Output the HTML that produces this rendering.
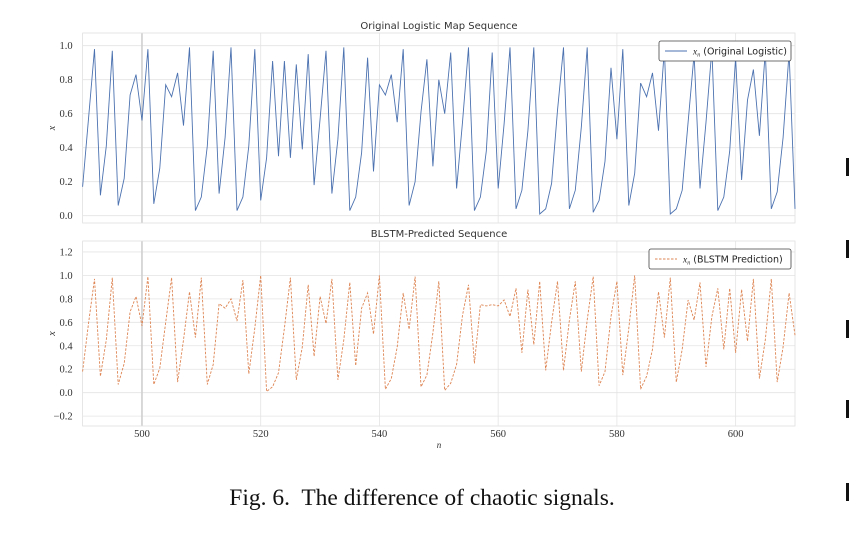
<!DOCTYPE html>
<html><head><meta charset="utf-8"><style>
body{margin:0;background:#fff;width:850px;height:542px;overflow:hidden}
svg{display:block}
</style></head><body>
<svg id="chart" width="850" height="542" viewBox="0 0 850 542" font-family="Liberation Serif, serif">
</svg>
<script>
const nValues=[];for(let n=490;n<=610;n++)nValues.push(n);
const original=[0.17,0.57,0.98,0.12,0.41,0.97,0.06,0.22,0.71,0.83,0.56,0.98,0.07,0.28,0.77,0.70,0.84,0.53,0.99,0.03,0.11,0.41,0.97,0.13,0.46,0.99,0.03,0.11,0.41,0.98,
0.09,0.34,0.91,0.35,0.91,0.34,0.89,0.39,0.95,0.18,0.57,0.97,0.13,0.45,0.99,0.03,0.11,0.37,0.93,0.26,
0.77,0.71,0.83,0.55,0.98,0.06,0.20,0.61,0.92,0.29,0.80,0.60,0.96,0.16,0.55,0.99,0.03,0.11,0.38,0.96,
0.16,0.54,0.99,0.04,0.15,0.50,0.99,0.01,0.04,0.19,0.62,0.99,0.04,0.15,0.52,0.99,0.02,0.09,0.32,0.87,
0.45,0.98,0.06,0.25,0.78,0.70,0.84,0.50,0.98,0.01,0.04,0.15,0.55,0.95,0.16,0.55,0.98,0.03,0.11,0.38,
0.93,0.21,0.68,0.86,0.47,0.97,0.04,0.14,0.46,0.96,0.04];
const predicted=[0.18,0.59,0.97,0.14,0.45,0.98,0.07,0.25,0.69,0.82,0.57,0.99,0.07,0.21,0.60,0.98,0.09,0.45,0.86,0.47,0.98,0.07,0.24,0.76,0.72,0.80,0.61,0.96,0.16,0.55,
1.0,0.01,0.05,0.17,0.55,0.98,0.11,0.39,0.92,0.31,0.82,0.59,0.97,0.11,0.45,0.94,0.23,0.72,0.85,0.50,
1.0,0.03,0.12,0.39,0.85,0.54,0.99,0.05,0.15,0.51,0.95,0.02,0.08,0.24,0.66,0.92,0.25,0.75,0.74,0.75,
0.74,0.79,0.65,0.89,0.34,0.88,0.41,0.95,0.19,0.60,0.95,0.19,0.62,0.95,0.18,0.62,0.99,0.06,0.18,0.65,
0.95,0.15,0.55,1.0,0.03,0.14,0.37,0.86,0.47,0.98,0.09,0.37,0.79,0.62,0.94,0.22,0.65,0.89,0.37,0.89,
0.34,0.88,0.44,0.97,0.12,0.45,0.97,0.09,0.39,0.85,0.49];
const xTicks=[500,520,540,560,580,600];
const yTicksTop=[0.0,0.2,0.4,0.6,0.8,1.0];
const yTicksBot=[-0.2,0.0,0.2,0.4,0.6,0.8,1.0,1.2];

const NS='http://www.w3.org/2000/svg';
const svg=document.getElementById('chart');
function mk(tag,attrs,parent){const e=document.createElementNS(NS,tag);for(const k in attrs)e.setAttribute(k,attrs[k]);(parent||svg).appendChild(e);return e;}
const X0=82.6,X1=795;
const xScale=n=>X0+(n-490)*(X1-X0)/120;
const topY=v=>215.7-v*170;
const botY=v=>392.7-v*117.3;

function panel(name,top,bottom,yScale,ticks,series,color,dash,title,legendText,legendW){
  const g=mk('g',{});
  
  
  ticks.forEach(t=>{
    const y=yScale(t);
    const l=mk('line',{x1:X0,x2:X1,y1:y,y2:y,stroke:'#e4e4e4','stroke-width':0.8},g);
    
    
    const tx=mk('text',{x:X0-10,y:y+3.5,'font-size':10.5,'text-anchor':'end',fill:'#333'},g);
    
    
    tx.textContent=(t<0?'\u2212':'')+Math.abs(t).toFixed(1);
  });
  xTicks.forEach(t=>{
    const x=xScale(t);
    const l=mk('line',{x1:x,x2:x,y1:top,y2:bottom,stroke:t===500?'#cfcfcf':'#e4e4e4','stroke-width':t===500?1.6:0.8},g);
    
    
  });
  const fr=mk('rect',{x:X0,y:top,width:X1-X0,height:bottom-top,fill:'none',stroke:'#e0e0e0','stroke-width':0.8},g);
  
  
  const pts=series.map((v,i)=>xScale(nValues[i]).toFixed(1)+','+yScale(v).toFixed(1)).join(' ');
  const pl=mk('polyline',{points:pts,fill:'none',stroke:color,'stroke-width':0.9,'stroke-dasharray':dash},g);
  
  
  const tt=mk('text',{x:439,y:top-4,'font-size':10,'text-anchor':'middle','font-family':'DejaVu Sans, sans-serif',fill:'#333'},g);
  
  
  tt.textContent=title;
  const yl=mk('text',{x:0,y:0,'font-size':10,'font-style':'italic','text-anchor':'middle',fill:'#333',transform:'translate(55,'+((top+bottom)/2)+') rotate(-90)'},g);
  
  
  yl.textContent='x';
  const lx=X1-4-legendW,ly=top+8;
  const lg=mk('g',{},g);
  
  
  mk('rect',{x:lx,y:ly,width:legendW,height:20,rx:2,fill:'#fff',stroke:'#444','stroke-width':0.8},lg);
  mk('line',{x1:lx+6,x2:lx+28,y1:ly+10,y2:ly+10,stroke:color,'stroke-width':0.9,'stroke-dasharray':dash},lg);
  const lt=mk('text',{x:lx+34,y:ly+13.5,'font-size':9.5,'font-family':'DejaVu Sans, sans-serif',fill:'#222'},lg);
  
  
  lt.innerHTML=legendText;
}
panel('top-panel-original',33,223,topY,yTicksTop,original,'#4c72b0','none','Original Logistic Map Sequence','<tspan font-style="italic" font-family="Liberation Serif">x</tspan><tspan font-size="6" font-style="italic" dy="2" font-family="Liberation Serif">n</tspan><tspan dy="-2"> (Original Logistic)</tspan>',132);
panel('bottom-panel-predicted',241,426,botY,yTicksBot,predicted,'#dd8452','2.5,1.5','BLSTM-Predicted Sequence','<tspan font-style="italic" font-family="Liberation Serif">x</tspan><tspan font-size="6" font-style="italic" dy="2" font-family="Liberation Serif">n</tspan><tspan dy="-2"> (BLSTM Prediction)</tspan>',142);

xTicks.forEach(t=>{
  const tx=mk('text',{x:xScale(t),y:437,'font-size':10.5,'text-anchor':'middle',fill:'#333'});
  
  
  tx.textContent=t;
});
const xl=mk('text',{x:439,y:448,'font-size':9,'font-style':'italic','text-anchor':'middle',fill:'#333'});


xl.textContent='n';
const cap=mk('text',{x:422,y:505,'font-size':23.5,'text-anchor':'middle',fill:'#111',style:'white-space:pre'});


cap.textContent='Fig. 6.  The difference of chaotic signals.';
[158,240,320,400,483].forEach(y=>{
  const r=mk('rect',{x:846,y:y,width:3,height:18,fill:'#111'});
  
  
});
</script>
</body></html>
